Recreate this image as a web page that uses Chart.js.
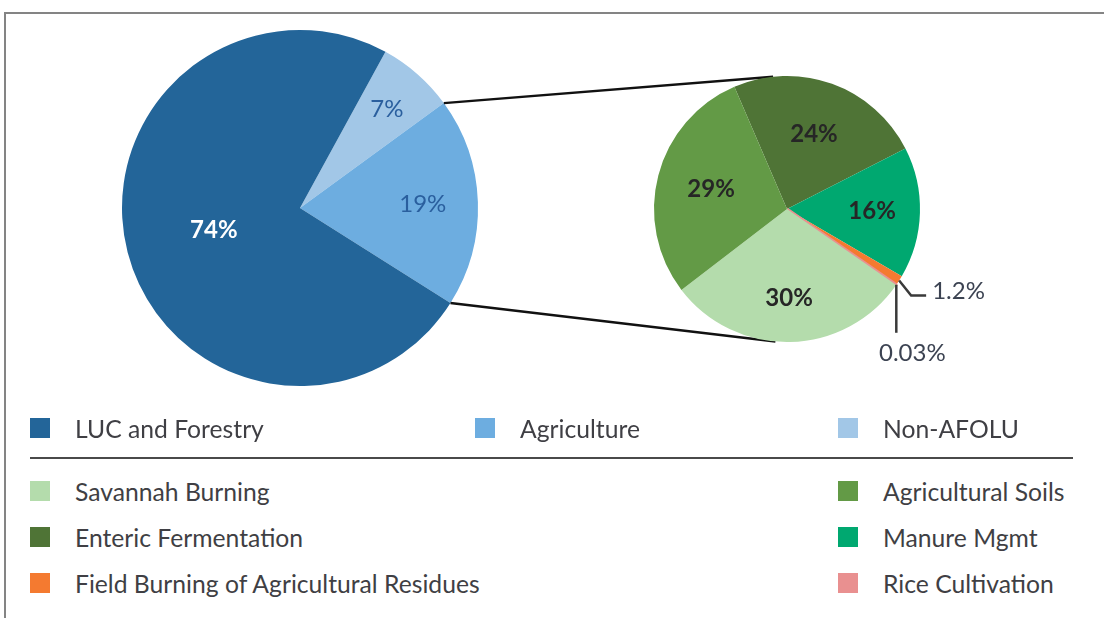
<!DOCTYPE html>
<html>
<head>
<meta charset="utf-8">
<script src="https://cdn.jsdelivr.net/npm/chart.js@4"></script>
<style>
  body { margin: 0; background: #fff; font-family: Lato, "Open Sans", sans-serif; }
  #wrap { position: relative; width: 1104px; height: 618px; overflow: hidden; }
  #frame { position: absolute; left: 4px; top: 12px; width: 1200px; height: 700px;
           border-top: 2px solid #848484; border-left: 2px solid #848484; }
  canvas { position: absolute; left: 0; top: 0; }
  .leg { position: absolute; display: flex; align-items: center; height: 30px;
         font-size: 24.7px; color: #3f3f44; white-space: nowrap; }
  .leg .box { width: 20px; height: 20px; margin-right: 25px; flex: none; }
  #sep { position: absolute; left: 30px; top: 457px; width: 1043px; height: 2px; background: #4a4a4a; }
</style>
</head>
<body>
<div id="wrap">
  <div id="frame"></div>
  <canvas id="main" width="1104" height="420"></canvas>
  <canvas id="agri" width="1104" height="420"></canvas>
  <div id="sep"></div>
  <div id="legend"></div>
</div>
<script>
// big pie, clockwise from the top-right edge
const sectors = ['Non-AFOLU', 'Agriculture', 'LUC and Forestry'];
const sectorShares = [7, 19, 74];
const sectorColors = ['#a2c7e7', '#6dade0', '#236599'];

// agriculture breakdown, clockwise
const agSources = ['Enteric Fermentation', 'Manure Mgmt', 'Field Burning of Agricultural Residues',
                   'Rice Cultivation', 'Savannah Burning', 'Agricultural Soils'];
const agShares = [24, 16, 1.2, 0.03, 30, 29];
const agColors = ['#4f7436', '#00a870', '#f47a30', '#e99090', '#b4dcac', '#639a46'];

// legend rows as in the picture
const legendTop = ['LUC and Forestry', 'Agriculture', 'Non-AFOLU'];
const legendLeft = ['Savannah Burning', 'Enteric Fermentation', 'Field Burning of Agricultural Residues'];
const legendRight = ['Agricultural Soils', 'Manure Mgmt', 'Rice Cultivation'];

const pct = v => v + '%';

function colorOf(name) {
  let i = sectors.indexOf(name);
  if (i >= 0) return sectorColors[i];
  return agColors[agSources.indexOf(name)];
}

// labels inside slices
const sliceLabels = {
  id: 'sliceLabels',
  afterDatasetsDraw(chart, args, opts) {
    const ctx = chart.ctx;
    const meta = chart.getDatasetMeta(0);
    const values = chart.data.datasets[0].data;
    ctx.save();
    ctx.textAlign = 'center';
    ctx.textBaseline = 'middle';
    meta.data.forEach((arc, i) => {
      const f = opts.radius[i];
      if (!f) return;
      const mid = (arc.startAngle + arc.endAngle) / 2;
      const x = arc.x + Math.cos(mid) * arc.outerRadius * f;
      const y = arc.y + Math.sin(mid) * arc.outerRadius * f;
      ctx.font = opts.fonts[i];
      ctx.fillStyle = opts.colors[i];
      ctx.fillText(pct(values[i]), x, y);
    });
    ctx.restore();
  }
};

// connector lines + callouts for the tiny slices
const extras = {
  id: 'extras',
  beforeDatasetsDraw(chart, args, opts) {
    const ctx = chart.ctx;
    const big = opts.source.getDatasetMeta(0).data[1];
    const small = chart.getDatasetMeta(0).data[0];
    const r = small.outerRadius;
    const a1 = opts.topAngle * Math.PI / 180, a2 = opts.bottomAngle * Math.PI / 180;
    ctx.save();
    ctx.strokeStyle = '#111';
    ctx.lineWidth = 2.5;
    ctx.beginPath();
    ctx.moveTo(big.x + Math.cos(big.startAngle) * big.outerRadius, big.y + Math.sin(big.startAngle) * big.outerRadius);
    ctx.lineTo(small.x + Math.cos(a1) * r, small.y + Math.sin(a1) * r);
    ctx.moveTo(big.x + Math.cos(big.endAngle) * big.outerRadius, big.y + Math.sin(big.endAngle) * big.outerRadius);
    ctx.lineTo(small.x + Math.cos(a2) * r, small.y + Math.sin(a2) * r);
    ctx.stroke();
    ctx.restore();
  },
  afterDatasetsDraw(chart, args, opts) {
    const ctx = chart.ctx;
    const meta = chart.getDatasetMeta(0);
    const values = chart.data.datasets[0].data;
    ctx.save();
    ctx.strokeStyle = '#3a3a3a';
    ctx.lineWidth = 2.5;
    ctx.fillStyle = '#3c4352';
    ctx.font = '24px Lato';
    ctx.textBaseline = 'middle';
    opts.callouts.forEach(c => {
      const arc = meta.data[c.index];
      const mid = (arc.startAngle + arc.endAngle) / 2;
      const x0 = arc.x + Math.cos(mid) * arc.outerRadius;
      const y0 = arc.y + Math.sin(mid) * arc.outerRadius;
      ctx.beginPath();
      c.path.forEach((p, k) => k ? ctx.lineTo(x0 + p[0], y0 + p[1]) : ctx.moveTo(x0 + p[0], y0 + p[1]));
      ctx.stroke();
      ctx.textAlign = c.align;
      ctx.fillText(pct(values[c.index]), x0 + c.text[0], y0 + c.text[1]);
    });
    ctx.restore();
  }
};

const mainChart = new Chart(document.getElementById('main'), {
  type: 'pie',
  data: {
    labels: sectors,
    datasets: [{ data: sectorShares, backgroundColor: sectorColors, borderWidth: 0 }]
  },
  options: {
    responsive: false,
    animation: false,
    rotation: 28.7,
    radius: 178,
    layout: { padding: { left: 0, right: 504, top: 0, bottom: 4 } },
    events: [],
    plugins: {
      legend: { display: false },
      tooltip: { enabled: false },
      sliceLabels: {
        radius: [0.74, 0.69, 0.5],
        fonts: ['24px Lato', '24px Lato', 'bold 24px Lato'],
        colors: ['#2a5f9e', '#2a5f9e', '#ffffff']
      }
    }
  },
  plugins: [sliceLabels]
});

new Chart(document.getElementById('agri'), {
  type: 'pie',
  data: {
    labels: agSources,
    datasets: [{
      data: agShares,
      backgroundColor: agColors,
      borderColor: agColors,
      borderWidth: [0, 0, 0, 3, 0, 0]
    }]
  },
  options: {
    responsive: false,
    animation: false,
    rotation: -23.3,
    radius: 133,
    layout: { padding: { left: 470, right: 0, top: 0, bottom: 2 } },
    events: [],
    plugins: {
      legend: { display: false },
      tooltip: { enabled: false },
      sliceLabels: {
        radius: [0.6, 0.64, 0, 0, 0.67, 0.59],
        fonts: Array(6).fill('bold 24px Lato'),
        colors: Array(6).fill('#262626')
      },
      extras: {
        source: mainChart,
        topAngle: -96,
        bottomAngle: 95,
        callouts: [
          { index: 2, path: [[0, 0], [12, 15], [27, 15]], text: [33, 11], align: 'left' },
          { index: 3, path: [[0, 0], [0, 48]], text: [16, 68], align: 'center' }
        ]
      }
    }
  },
  plugins: [extras, sliceLabels]
});

// legend
const legend = document.getElementById('legend');
function addItem(name, x, y) {
  const d = document.createElement('div');
  d.className = 'leg';
  d.style.left = x + 'px';
  d.style.top = (y - 15) + 'px';
  d.innerHTML = '<span class="box" style="background:' + colorOf(name) + '"></span>' + name;
  legend.appendChild(d);
}
const topX = [30, 475, 838];
legendTop.forEach((n, i) => addItem(n, topX[i], 428));
const rowY = [491, 537, 583];
legendLeft.forEach((n, i) => addItem(n, 30, rowY[i]));
legendRight.forEach((n, i) => addItem(n, 838, rowY[i]));
</script>
</body>
</html>
